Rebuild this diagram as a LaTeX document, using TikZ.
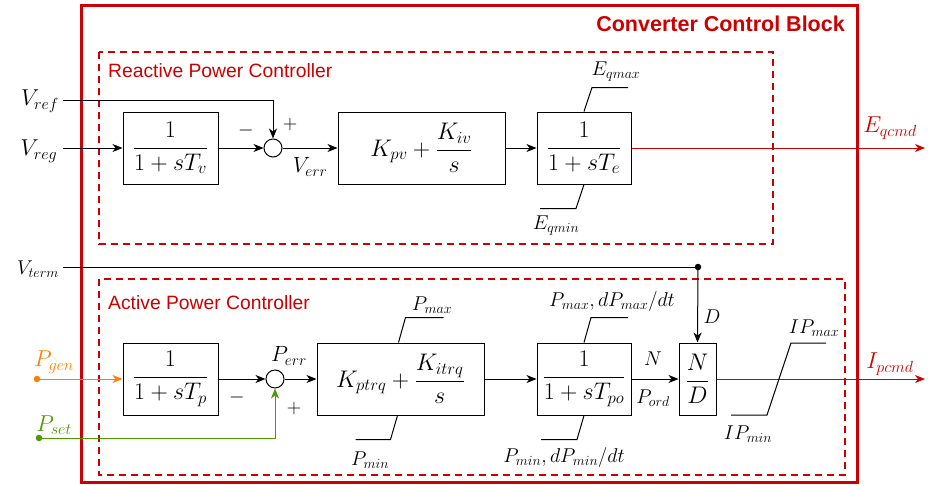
\RequirePackage{fix-cm}
\documentclass[tikz,border=0pt]{standalone}
\usepackage{fontspec}
\setsansfont{Liberation Sans}
\usetikzlibrary{arrows.meta}
\definecolor{cred}{HTML}{CC0000}
\definecolor{corange}{HTML}{FF8000}
\definecolor{cgreen}{HTML}{4D9900}
\newcommand{\fs}[1]{\fontsize{#1}{#1}\selectfont}
\begin{document}
\begin{tikzpicture}[x=1pt,y=-1pt,
  blk/.style={draw, line width=1pt, minimum height=72pt, inner sep=0pt, font=\fs{24}},
  sumn/.style={draw, circle, minimum size=18pt, inner sep=0pt, line width=1pt},
  lab/.style={inner sep=0pt, font=\fs{23}},
  mlab/.style={inner sep=0pt, font=\fs{22}},
  slab/.style={inner sep=0pt, font=\fs{20}},
  sig/.style={line width=1pt, -{Stealth[length=10pt,width=8pt,inset=3pt]}},
  lim/.style={line width=1pt},
  dotn/.style={circle, fill, inner sep=0pt, minimum size=6.5pt},
  outerbox/.style={draw=cred, line width=3pt},
  ctrlbox/.style={draw=cred, line width=2pt, dash pattern=on 7pt off 5pt},
  ttl/.style={inner sep=0pt, text=cred, font=\sffamily\fs{19.3}}
]
\useasboundingbox (0,0) rectangle (928,485);

% frames
\draw[outerbox] (81,5) rectangle (857,482);
\draw[ctrlbox] (99,52) rectangle (773,244);
\draw[ctrlbox] (99,279) rectangle (845,475);
\node[anchor=east, inner sep=0pt, text=cred, font=\sffamily\bfseries\fs{21.5}] (title) at (845,24) {Converter Control Block};
\node[ttl, anchor=west] (rpc) at (108,71) {Reactive Power Controller};
\node[ttl, anchor=west] (apc) at (108,303) {Active Power Controller};

% reactive row
\node[blk, minimum width=95pt] (tv) at (170.5,148) {$\displaystyle\frac{1}{1+sT_v}$};
\node[sumn] (s1) at (273,148) {};
\node[blk, minimum width=167pt] (kpv) at (421.5,148) {$\displaystyle K_{pv}+\frac{K_{iv}}{s}$};
\node[blk, minimum width=94pt] (te) at (584,148) {$\displaystyle\frac{1}{1+sT_e}$};

\node[lab] (vref) at (40,101) {$V_{ref}$};
\node[lab] (vreg) at (39,151) {$V_{reg}$};
\node[mlab] (verr) at (310,167) {$V_{err}$};
\node[slab] (m1) at (246,130) {$-$};
\node[slab] (p1) at (290,124) {$+$};
\node[slab] (eqmax) at (616,72) {$E_{qmax}$};
\node[slab] (eqmin) at (556,226) {$E_{qmin}$};
\node[lab, text=cred] (eqcmd) at (890,128) {$E_{qcmd}$};

\coordinate (vrefin) at (63,100);
\coordinate (vregin) at (63,148);
\coordinate (eqout) at (925,148);

\draw[sig] (vrefin) -| (s1.north);
\draw[sig] (vregin) -- (tv.west);
\draw[sig] (tv.east) -- (s1.west);
\draw[sig] (s1.east) -- (kpv.west);
\draw[sig] (kpv.east) -- (te.west);
\draw[sig, cred] (te.east) -- (eqout);

\draw[lim] (te.north) -- ++(8,-24) -- ++(36,0);
\draw[lim] (te.south) -- ++(-8,24) -- ++(-36,0);

% V_term
\coordinate (vtin) at (63,267);
\node[dotn] (jn) at (698,267) {};
\node[slab] (vterm) at (38,269) {$V_{term}$};

% active row
\node[blk, minimum width=95pt] (tp) at (170.5,379) {$\displaystyle\frac{1}{1+sT_p}$};
\node[sumn] (s2) at (275,379) {};
\node[blk, minimum width=167pt] (kpt) at (400.5,379) {$\displaystyle K_{ptrq}+\frac{K_{itrq}}{s}$};
\node[blk, minimum width=94pt] (tpo) at (584,379) {$\displaystyle\frac{1}{1+sT_{po}}$};
\node[blk, minimum width=37pt] (nd) at (697.5,379) {$\displaystyle\frac{N}{D}$};

\node[dotn, corange] (pgdot) at (37,379) {};
\node[dotn, cgreen] (psdot) at (39,438) {};
\node[lab, text=corange] (pgen) at (54,362) {$P_{gen}$};
\node[lab, text=cgreen] (pset) at (54,425) {$P_{set}$};
\node[mlab] (perr) at (289,356) {$P_{err}$};
\node[slab] (m2) at (237,397) {$-$};
\node[slab] (p2) at (294,408) {$+$};
\node[slab] (pmax) at (432,305) {$P_{max}$};
\node[slab] (pmin) at (370,460) {$P_{min}$};
\node[slab] (pmaxd) at (612,301) {$P_{max}, dP_{max}/dt$};
\node[slab] (pmind) at (564,457) {$P_{min}, dP_{min}/dt$};
\node[slab] (nlab) at (653,359) {$N$};
\node[slab] (pord) at (653,398) {$P_{ord}$};
\node[slab] (dlab) at (712,317) {$D$};
\node[slab] (ipmax) at (814,328) {$IP_{max}$};
\node[slab] (ipmin) at (748,434) {$IP_{min}$};
\node[lab, text=cred] (ipcmd) at (890,364) {$I_{pcmd}$};

\coordinate (ipout) at (925,379);

\draw[line width=1pt] (vtin) -- (jn.center);
\draw[sig] (jn.center) -- (nd.north);
\draw[sig, corange] (pgdot.center) -- (tp.west);
\draw[sig] (tp.east) -- (s2.west);
\draw[sig, cgreen] (psdot.center) -| (s2.south);
\draw[sig] (s2.east) -- (kpt.west);
\draw[sig] (kpt.east) -- (tpo.west);
\draw[sig] (tpo.east) -- (nd.west);
\draw[sig, cred] (nd.east) -- (ipout);

\draw[lim] (kpt.north) ++(-2,0) -- ++(7,-25) -- ++(38,0);
\draw[lim] (kpt.south) ++(-3,0) -- ++(-7,24) -- ++(-35,0);
\draw[lim] (tpo.north) -- ++(7,-25) -- ++(37,0);
\draw[lim] (tpo.south) -- ++(-7,24) -- ++(-36,0);
\draw[lim] (731,415) -- (767,415) -- (791,343) -- (826,343);
\end{tikzpicture}
\end{document}
